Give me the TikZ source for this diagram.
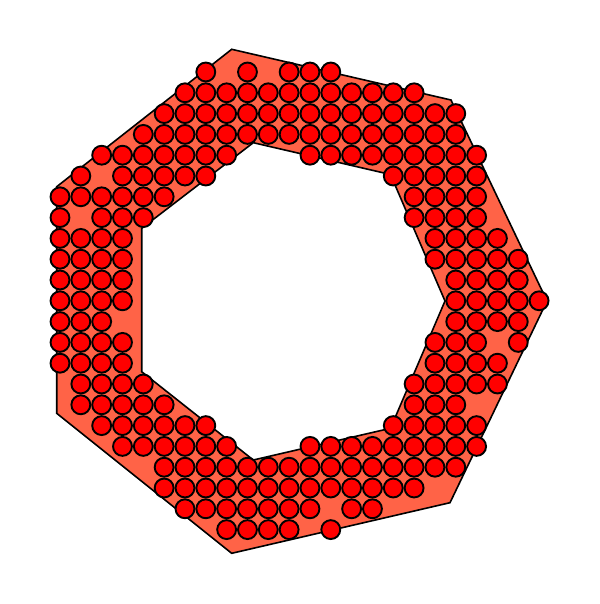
\documentclass[tikz,border=0pt]{standalone}
\begin{document}
\begin{tikzpicture}[x=1pt,y=-1pt,
  ring/.style={fill={rgb,255:red,255;green,99;blue,71},draw=black,line width=1.6pt,line join=miter,even odd rule},
  disc/.style={fill={rgb,255:red,255;green,0;blue,0},draw=black,line width=1.9pt}]
\useasboundingbox (0,0) rectangle (599,604);
\path[ring] (231.7,49.3) -- (451,100) -- (547,301) -- (450,502.7) -- (231.7,553.3) -- (56.7,413.3) -- (56.7,186.7) -- cycle
  (253.3,142.7) -- (390.5,174.5) -- (445,301) -- (390.5,428.3) -- (253.3,460) -- (141.7,371.7) -- (141.7,228.3) -- cycle;
\foreach \r/\a/\b in {0/7/7,0/9/9,0/11/13,1/6/17,2/5/19,3/4/19,4/2/8,4/12/20,
  5/1/1,5/3/7,5/16/20,6/0/5,6/17/20,7/0/0,7/2/4,7/17/20,8/0/3,8/18/21,
  9/0/3,9/18/22,10/0/3,10/19/22,11/0/3,11/19/23,12/0/2,12/19/22,
  13/0/3,13/18/20,13/22/22,14/0/3,14/18/21,15/1/4,15/17/21,16/1/5,16/17/19,
  17/2/7,17/16/20,18/3/8,18/12/20,19/5/19,20/5/17,21/6/12,21/14/15,22/8/11,22/13/13}{
  \foreach \c in {\a,...,\b}{
    \path[disc] ({60+20.83*\c},{72+20.8*\r}) circle (9.45);
  }
}
\end{tikzpicture}
\end{document}
